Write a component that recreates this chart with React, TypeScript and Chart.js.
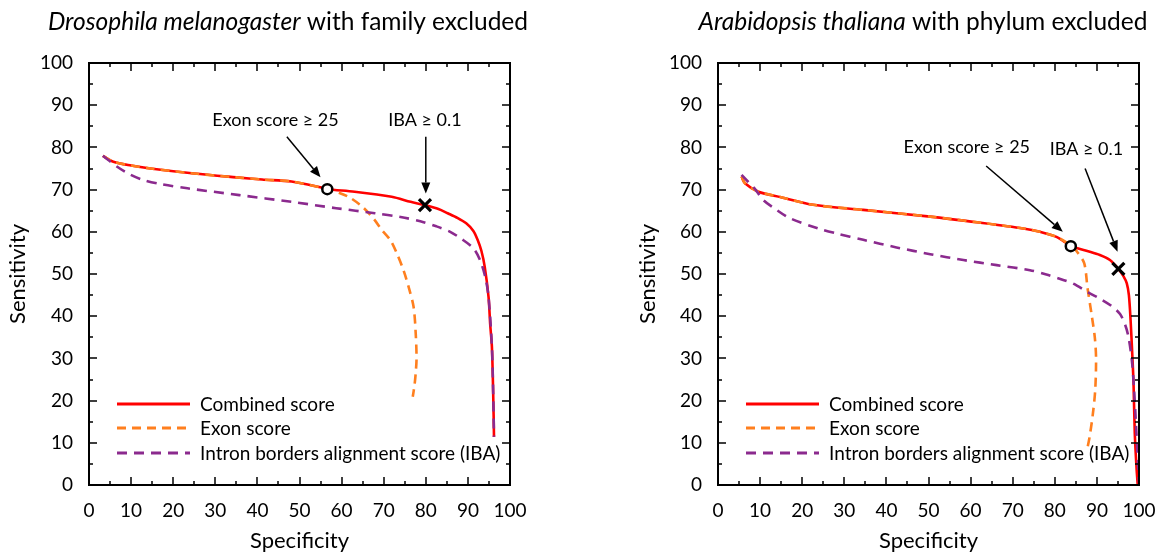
import React, { useEffect, useRef } from "react";
import { Chart, registerables } from "chart.js";

Chart.register(...registerables);

const FONT = "Lato, 'Open Sans', sans-serif";

const AXIS_TICKS = [0, 10, 20, 30, 40, 50, 60, 70, 80, 90, 100];
const MINOR_TICKS = [5, 15, 25, 35, 45, 55, 65, 75, 85, 95];

const SERIES_LABELS = ["Combined score", "Exon score", "Intron borders alignment score (IBA)"];
const SERIES_COLORS = ["#ff0000", "#ff7f1e", "#8b2a8e"];
const X_TITLE = "Specificity";
const Y_TITLE = "Sensitivity";

// ---------- Drosophila melanogaster ----------
const dmCombinedX = [3.3, 5.8, 10, 14.6, 25, 35, 41.1, 48.1, 55.2, 56.6, 63.1, 71.9, 76.4, 79.8, 83, 85.2, 87.5, 89.6, 91.3, 92.3, 93.2, 94, 94.9, 95.3, 95.7, 96, 96.2];
const dmCombinedY = [78, 76.6, 75.7, 75, 73.8, 72.9, 72.4, 71.9, 70.5, 70.1, 69.5, 68.3, 67.1, 66.3, 65.4, 64.4, 63.3, 62, 60.2, 58.1, 55.5, 51.7, 44.6, 38, 32.8, 22, 11.4];
const dmExonX = [3.3, 5.8, 10, 14.6, 25, 35, 41.1, 48.1, 55.2, 56.6, 59.5, 62, 65.1, 67.7, 69.5, 71.6, 73.2, 74.7, 75.9, 77.1, 77.6, 77.8, 77.6, 77.3, 76.9];
const dmExonY = [78, 76.6, 75.7, 75, 73.8, 72.9, 72.4, 71.9, 70.5, 70.1, 69.2, 68.1, 65.8, 63, 60.5, 58, 54.7, 50.9, 47, 42.2, 36, 30, 26.5, 23.5, 20.9];
const dmIbaX = [3.3, 6.7, 9.5, 12.8, 17, 23.4, 35.7, 48.1, 58.7, 67.9, 74, 78.7, 82.5, 85.8, 88.5, 91.3, 92.8, 94.1, 94.9, 95.7, 96, 96.2];
const dmIbaY = [78, 75.4, 73.7, 72.3, 71.3, 70.3, 68.7, 67.1, 65.6, 64.4, 63.5, 62.5, 61.3, 60, 58.3, 56.1, 53.5, 49.4, 44.6, 32.8, 22, 11.4];
const dmMarkerX = [56.6, 79.8];
const dmMarkerY = [70.1, 66.3];
const dmNoteLabels = ["Exon score ≥ 25", "IBA ≥ 0.1"];
const dmNoteX = [44.3, 79.8];
const dmNoteY = [86.5, 86.5];
const dmArrowFromX = [47, 80];
const dmArrowFromY = [82.5, 82.5];
const dmArrowToX = [55, 80];
const dmArrowToY = [72.9, 69.1];

// ---------- Arabidopsis thaliana ----------
const atCombinedX = [5.6, 6.4, 9.6, 15, 22.6, 34.5, 50.4, 62, 72.5, 76.5, 80.4, 84, 87.5, 90.7, 93.1, 95.1, 96.3, 97.1, 97.6, 98, 98.4, 98.7, 99, 99.4, 99.7];
const atCombinedY = [73.1, 71.5, 69.5, 68.2, 66.4, 65.2, 63.6, 62.2, 60.8, 60, 58.8, 56.6, 55.5, 54.5, 53.3, 51.2, 49.5, 47.8, 45, 39.1, 31, 24.1, 12.2, 4.3, 0];
const atExonX = [5.6, 6.4, 9.6, 15, 22.6, 34.5, 50.4, 62, 72.5, 76.5, 80.4, 84, 85.5, 87, 87.8, 88.8, 89.5, 89.8, 89.6, 89, 88.2, 87.7];
const atExonY = [73.1, 71.5, 69.5, 68.2, 66.4, 65.2, 63.6, 62.2, 60.8, 60, 58.8, 56.6, 55, 52.5, 46.5, 40, 35, 30, 22.5, 16.5, 11, 8.5];
const atIbaX = [5.6, 7.2, 8.8, 10.8, 13.9, 17.1, 23.8, 28.2, 34.5, 42.4, 50.4, 58.3, 66.2, 74.1, 78, 82, 84.4, 88, 91, 93.5, 95.5, 96.7, 97.5, 98.3, 98.8, 99.2, 99.6, 100];
const atIbaY = [73.5, 71.8, 70.1, 67.5, 65.2, 63.2, 60.8, 59.6, 58.1, 56.3, 54.7, 53.3, 52.1, 50.9, 49.9, 48.6, 47.7, 45.6, 44, 42.4, 40.5, 38, 35.1, 29.6, 23, 16, 8, 0.5];
const atMarkerX = [83.8, 95.1];
const atMarkerY = [56.6, 51.2];
const atNoteLabels = ["Exon score ≥ 25", "IBA ≥ 0.1"];
const atNoteX = [59.1, 87.5];
const atNoteY = [80, 79.5];
const atArrowFromX = [63.7, 87.2];
const atArrowFromY = [75.6, 75];
const atArrowToX = [81.9, 94.9];
const atArrowToY = [60, 55.3];

type Panel = {
  titleItalic: string;
  titleRest: string;
  titleCx: number;
  canvasLeft: number;
  canvasWidth: number;
  yAxisWidth: number;
  padRight: number;
  yTitleX: number;
  series: { xs: number[]; ys: number[] }[];
  markerX: number[];
  markerY: number[];
  noteLabels: string[];
  noteX: number[];
  noteY: number[];
  arrowFromX: number[];
  arrowFromY: number[];
  arrowToX: number[];
  arrowToY: number[];
};

const PANELS: Panel[] = [
  {
    titleItalic: "Drosophila melanogaster",
    titleRest: " with family excluded",
    titleCx: 288,
    canvasLeft: 0,
    canvasWidth: 585,
    yAxisWidth: 89,
    padRight: 75,
    yTitleX: 25,
    series: [
      { xs: dmCombinedX, ys: dmCombinedY },
      { xs: dmExonX, ys: dmExonY },
      { xs: dmIbaX, ys: dmIbaY },
    ],
    markerX: dmMarkerX,
    markerY: dmMarkerY,
    noteLabels: dmNoteLabels,
    noteX: dmNoteX,
    noteY: dmNoteY,
    arrowFromX: dmArrowFromX,
    arrowFromY: dmArrowFromY,
    arrowToX: dmArrowToX,
    arrowToY: dmArrowToY,
  },
  {
    titleItalic: "Arabidopsis thaliana",
    titleRest: " with phylum excluded",
    titleCx: 338,
    canvasLeft: 585,
    canvasWidth: 586,
    yAxisWidth: 133,
    padRight: 32,
    yTitleX: 70,
    series: [
      { xs: atCombinedX, ys: atCombinedY },
      { xs: atExonX, ys: atExonY },
      { xs: atIbaX, ys: atIbaY },
    ],
    markerX: atMarkerX,
    markerY: atMarkerY,
    noteLabels: atNoteLabels,
    noteX: atNoteX,
    noteY: atNoteY,
    arrowFromX: atArrowFromX,
    arrowFromY: atArrowFromY,
    arrowToX: atArrowToX,
    arrowToY: atArrowToY,
  },
];

const DASHES: (number[] | undefined)[] = [undefined, [9, 6], [10, 7]];

function decorPlugin(p: Panel) {
  return {
    id: "decor",
    afterDatasetsDraw(chart: any) {
      const { ctx, chartArea: a, scales } = chart;
      const xs = scales.x;
      const ys = scales.y;
      ctx.save();
      ctx.strokeStyle = "#000";
      ctx.lineWidth = 1.5;
      const drawTick = (v: number, len: number) => {
        const px = Math.round(xs.getPixelForValue(v));
        const py = Math.round(ys.getPixelForValue(v));
        ctx.beginPath();
        if (v > 0 && v < 100) {
          ctx.moveTo(px, a.bottom);
          ctx.lineTo(px, a.bottom - len);
          ctx.moveTo(px, a.top);
          ctx.lineTo(px, a.top + len);
          ctx.moveTo(a.left, py);
          ctx.lineTo(a.left + len, py);
          ctx.moveTo(a.right, py);
          ctx.lineTo(a.right - len, py);
        }
        ctx.stroke();
      };
      AXIS_TICKS.forEach((v) => drawTick(v, 8));
      MINOR_TICKS.forEach((v) => drawTick(v, 4));
      ctx.lineWidth = 2;
      ctx.strokeRect(a.left, a.top, a.right - a.left, a.bottom - a.top);
      ctx.restore();
    },
    afterDraw(chart: any) {
      const { ctx, chartArea: a, scales } = chart;
      const xs = scales.x;
      const ys = scales.y;
      ctx.save();
      ctx.fillStyle = "#000";
      // title
      ctx.textBaseline = "alphabetic";
      ctx.textAlign = "left";
      const TS = 24.5;
      ctx.font = `italic ${TS}px ${FONT}`;
      const w1 = ctx.measureText(p.titleItalic).width;
      ctx.font = `${TS}px ${FONT}`;
      const w2 = ctx.measureText(p.titleRest).width;
      const tx = p.titleCx - (w1 + w2) / 2;
      ctx.font = `italic ${TS}px ${FONT}`;
      ctx.fillText(p.titleItalic, tx, 30);
      ctx.font = `${TS}px ${FONT}`;
      ctx.fillText(p.titleRest, tx + w1, 30);

      // axis titles
      ctx.font = `22px ${FONT}`;
      ctx.textAlign = "center";
      ctx.fillText(X_TITLE, (a.left + a.right) / 2, 548);
      ctx.save();
      ctx.translate(p.yTitleX, (a.top + a.bottom) / 2);
      ctx.rotate(-Math.PI / 2);
      ctx.fillText(Y_TITLE, 0, 0);
      ctx.restore();

      // annotations
      ctx.font = `18px ${FONT}`;
      ctx.textBaseline = "middle";
      p.noteLabels.forEach((t, i) => {
        ctx.fillText(t, xs.getPixelForValue(p.noteX[i]), ys.getPixelForValue(p.noteY[i]));
        const x0 = xs.getPixelForValue(p.arrowFromX[i]);
        const y0 = ys.getPixelForValue(p.arrowFromY[i]);
        const x1 = xs.getPixelForValue(p.arrowToX[i]);
        const y1 = ys.getPixelForValue(p.arrowToY[i]);
        const ang = Math.atan2(y1 - y0, x1 - x0);
        const hl = 11;
        const hw = 4.5;
        const bx = x1 - hl * Math.cos(ang);
        const by = y1 - hl * Math.sin(ang);
        ctx.strokeStyle = "#000";
        ctx.lineWidth = 1.5;
        ctx.beginPath();
        ctx.moveTo(x0, y0);
        ctx.lineTo(bx, by);
        ctx.stroke();
        ctx.beginPath();
        ctx.moveTo(x1, y1);
        ctx.lineTo(bx + hw * Math.sin(ang), by - hw * Math.cos(ang));
        ctx.lineTo(bx - hw * Math.sin(ang), by + hw * Math.cos(ang));
        ctx.closePath();
        ctx.fill();
      });

      // legend
      const rows = [a.bottom - 81, a.bottom - 57, a.bottom - 32];
      ctx.font = `19px ${FONT}`;
      ctx.textAlign = "left";
      ctx.textBaseline = "middle";
      SERIES_LABELS.forEach((lab, i) => {
        const y = rows[i];
        ctx.save();
        ctx.strokeStyle = SERIES_COLORS[i];
        ctx.lineWidth = 3;
        ctx.setLineDash(DASHES[i] || []);
        ctx.beginPath();
        ctx.moveTo(a.left + 28, y);
        ctx.lineTo(a.left + 101, y);
        ctx.stroke();
        ctx.restore();
        ctx.fillText(lab, a.left + 111, y + 1);
      });
      ctx.restore();
    },
  };
}

function makeConfig(p: Panel): any {
  const datasets: any[] = p.series.map((s, i) => ({
    label: SERIES_LABELS[i],
    data: s.xs.map((x, j) => ({ x, y: s.ys[j] })),
    borderColor: SERIES_COLORS[i],
    backgroundColor: SERIES_COLORS[i],
    borderWidth: 2.6,
    borderDash: DASHES[i] || [],
    pointRadius: 0,
    tension: 0.3,
    fill: false,
    order: 3 - i,
  }));
  datasets.push({
    label: "thresholds",
    data: p.markerX.map((x, j) => ({ x, y: p.markerY[j] })),
    showLine: false,
    pointStyle: ["circle", "crossRot"],
    pointRadius: [5, 8.5],
    pointBorderWidth: [2.5, 3.2],
    borderColor: "#000",
    pointBorderColor: "#000",
    pointBackgroundColor: "#fff",
    order: 0,
  });
  const tickFont = { family: FONT, size: 19 };
  return {
    type: "line",
    data: { datasets },
    options: {
      responsive: false,
      animation: false,
      events: [],
      layout: { padding: { left: 0, right: p.padRight, top: 63, bottom: 0 } },
      plugins: { legend: { display: false }, tooltip: { enabled: false }, title: { display: false } },
      scales: {
        x: {
          type: "linear",
          min: 0,
          max: 100,
          afterBuildTicks: (s: any) => {
            s.ticks = AXIS_TICKS.map((v) => ({ value: v }));
          },
          ticks: { font: tickFont, color: "#000", padding: 14, maxRotation: 0, autoSkip: false },
          grid: { display: false, drawTicks: false },
          border: { display: false },
          afterFit: (s: any) => {
            s.height = 71;
          },
        },
        y: {
          type: "linear",
          min: 0,
          max: 100,
          afterBuildTicks: (s: any) => {
            s.ticks = AXIS_TICKS.map((v) => ({ value: v }));
          },
          ticks: { font: tickFont, color: "#000", padding: 16, autoSkip: false },
          grid: { display: false, drawTicks: false },
          border: { display: false },
          afterFit: (s: any) => {
            s.width = p.yAxisWidth;
          },
        },
      },
    },
    plugins: [decorPlugin(p)],
  };
}

function PanelChart({ panel }: { panel: Panel }) {
  const ref = useRef<HTMLCanvasElement>(null);
  useEffect(() => {
    const chart = new Chart(ref.current as HTMLCanvasElement, makeConfig(panel));
    return () => chart.destroy();
  }, [panel]);
  return (
    <canvas
      ref={ref}
      width={panel.canvasWidth}
      height={556}
      style={{ position: "absolute", left: panel.canvasLeft, top: 0, width: panel.canvasWidth, height: 556 }}
    />
  );
}

export default function App() {
  Chart.defaults.font.family = FONT;
  return (
    <div style={{ position: "absolute", left: 0, top: 0, width: 1171, height: 556, background: "#fff" }}>
      {PANELS.map((p, i) => (
        <PanelChart key={i} panel={p} />
      ))}
    </div>
  );
}
